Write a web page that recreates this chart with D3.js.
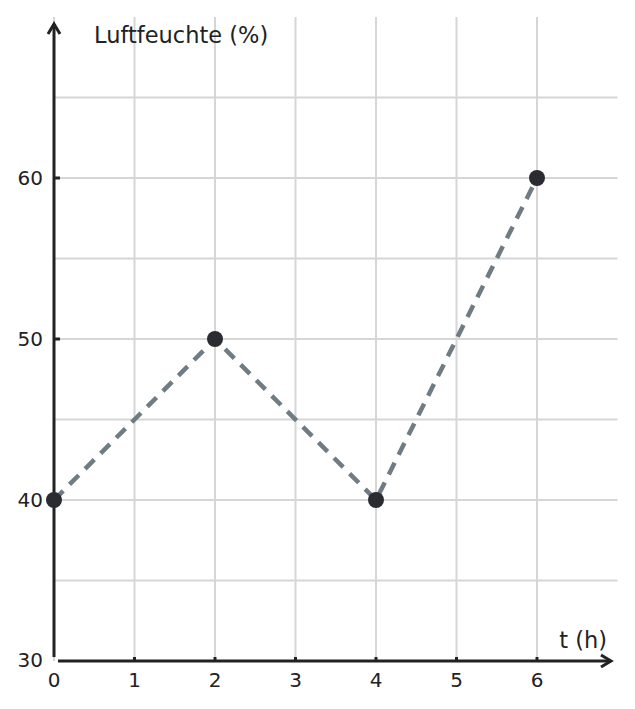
<!DOCTYPE html>
<html>
<head>
<meta charset="utf-8">
<script src="https://cdn.jsdelivr.net/npm/d3@7"></script>
<style>
  body { margin: 0; background: #fff; }
  svg { display: block; font-family: 'DejaVu Sans', sans-serif; }
</style>
</head>
<body>
<div id="svg-container"></div>
<script>
// data
const timeValues = [0, 2, 4, 6]
const humidityValues = [40, 50, 40, 60]
const xTickValues = [0, 1, 2, 3, 4, 5, 6]
const yTickValues = [30, 40, 50, 60]
const xGridValues = [0, 1, 2, 3, 4, 5, 6]
const yGridValues = [35, 40, 45, 50, 55, 60, 65]

;(function () {
  const svgWidth = 635
  const svgHeight = 709

  const x = d3.scaleLinear().domain([0, 7]).range([54, 617.5])
  const y = d3.scaleLinear().domain([30, 70]).range([661, 17])

  const axisColor = '#222'
  const gridColor = '#d6d6d6'

  const svg = d3
    .select('#svg-container')
    .append('svg')
    .attr('width', svgWidth)
    .attr('height', svgHeight)

  // grid
  svg
    .append('g')
    .selectAll('line')
    .data(xGridValues)
    .join('line')
    .attr('x1', d => x(d))
    .attr('x2', d => x(d))
    .attr('y1', y(70))
    .attr('y2', y(30))
    .attr('stroke', gridColor)
    .attr('stroke-width', 2)

  svg
    .append('g')
    .selectAll('line')
    .data(yGridValues)
    .join('line')
    .attr('x1', x(0))
    .attr('x2', x(7))
    .attr('y1', d => y(d))
    .attr('y2', d => y(d))
    .attr('stroke', gridColor)
    .attr('stroke-width', 2)

  // axes
  const axes = svg.append('g').attr('stroke', axisColor).attr('fill', 'none')
  axes
    .append('line')
    .attr('x1', x(0))
    .attr('x2', x(0))
    .attr('y1', y(30) - 4)
    .attr('y2', 24)
    .attr('stroke-width', 3)
  axes
    .append('path')
    .attr('d', `M${x(0) - 6},${34} L${x(0)},${24} L${x(0) + 6},${34}`)
    .attr('stroke-width', 3)
    .attr('stroke-linejoin', 'miter')
  axes
    .append('line')
    .attr('x1', x(0) + 4)
    .attr('x2', 611)
    .attr('y1', y(30))
    .attr('y2', y(30))
    .attr('stroke-width', 3)
  axes
    .append('path')
    .attr('d', `M${601},${y(30) - 6} L${611},${y(30)} L${601},${y(30) + 6}`)
    .attr('stroke-width', 3)

  // tick marks
  axes
    .append('g')
    .selectAll('line')
    .data(xTickValues.filter(d => d > 0))
    .join('line')
    .attr('x1', d => x(d))
    .attr('x2', d => x(d))
    .attr('y1', y(30))
    .attr('y2', y(30) - 4)
    .attr('stroke-width', 3)
  axes
    .append('g')
    .selectAll('line')
    .data(yTickValues.filter(d => d > 30))
    .join('line')
    .attr('x1', x(0))
    .attr('x2', x(0) + 6)
    .attr('y1', d => y(d))
    .attr('y2', d => y(d))
    .attr('stroke-width', 3)

  // tick labels
  svg
    .append('g')
    .attr('font-size', 20)
    .attr('fill', axisColor)
    .attr('text-anchor', 'middle')
    .selectAll('text')
    .data(xTickValues)
    .join('text')
    .attr('x', d => x(d))
    .attr('y', 687)
    .text(d => d)

  svg
    .append('g')
    .attr('font-size', 20)
    .attr('fill', axisColor)
    .attr('text-anchor', 'end')
    .selectAll('text')
    .data(yTickValues)
    .join('text')
    .attr('x', 43)
    .attr('y', d => (d === 30 ? y(d) + 6 : y(d) + 7))
    .text(d => d)

  // axis titles
  svg
    .append('text')
    .attr('x', 94)
    .attr('y', 43)
    .attr('font-size', 22.5)
    .attr('fill', axisColor)
    .text('Luftfeuchte (%)')

  svg
    .append('text')
    .attr('x', 607)
    .attr('y', 648)
    .attr('text-anchor', 'end')
    .attr('font-size', 22.5)
    .attr('fill', axisColor)
    .text('t (h)')

  // series
  const points = timeValues.map((t, i) => ({ t, v: humidityValues[i] }))

  const line = d3
    .line()
    .x(d => x(d.t))
    .y(d => y(d.v))

  svg
    .append('path')
    .datum(points)
    .attr('d', line)
    .attr('fill', 'none')
    .attr('stroke', '#6f7c83')
    .attr('stroke-width', 4.5)
    .attr('stroke-dasharray', '13,9')

  svg
    .append('g')
    .selectAll('circle')
    .data(points)
    .join('circle')
    .attr('cx', d => x(d.t))
    .attr('cy', d => y(d.v))
    .attr('r', 8)
    .attr('fill', '#2a2c31')
})()
</script>
</body>
</html>
